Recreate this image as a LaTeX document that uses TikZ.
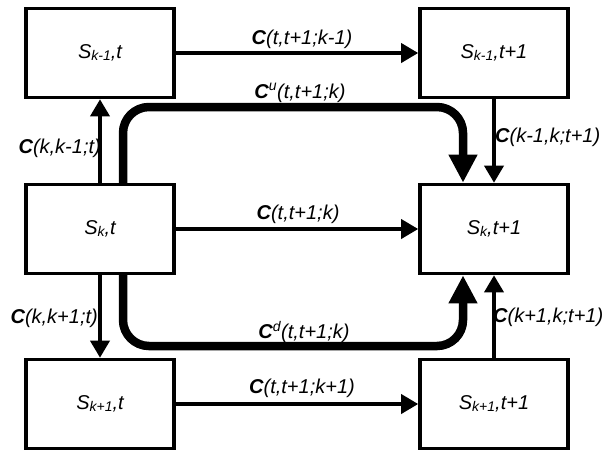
\documentclass[tikz,border=0pt]{standalone}
\usepackage{fontspec}
\setmainfont{Liberation Sans}
\usetikzlibrary{arrows.meta,calc}
\newcommand\sub[1]{\raisebox{-0.08em}{\fontsize{14}{14}\selectfont #1}}
\begin{document}
\begin{tikzpicture}[x=1pt,y=-1pt,
  font=\fontsize{20}{24}\selectfont\itshape,
  box/.style={draw,line width=3.6pt,minimum width=148pt,minimum height=89pt,inner sep=0pt},
  thin/.style={line width=3.6pt,-{Triangle[length=17pt,width=19pt]}},
  heavy/.style={line width=8.5pt,rounded corners=26pt,-{Triangle[length=28pt,width=27pt]}},
  lab/.style={inner sep=0pt}]
\useasboundingbox (0,0) rectangle (609,451);
\node[box] (TL) at (100,53) {S\sub{k-1},t};
\node[box] (TR) at (494,53) {S\sub{k-1},t+1};
\node[box] (ML) at (100,229) {S\sub{k},t};
\node[box] (MR) at (494,229) {S\sub{k},t+1};
\node[box] (BL) at (100,404) {S\sub{k+1},t};
\node[box] (BR) at (494,404) {S\sub{k+1},t+1};
% horizontal
\draw[thin] (TL.east) -- (TR.west);
\draw[thin] (ML.east) -- (MR.west);
\draw[thin] (BL.east) -- (BR.west);
% verticals
\draw[thin] (ML.north) -- (TL.south);
\draw[thin] (ML.south) -- (BL.north);
\draw[thin] (TR.south) -- (MR.north);
\draw[thin] (BR.north) -- (MR.south);
% heavy
\coordinate (us) at ($(ML.north)+(23,1)$);
\coordinate (ue) at ($(MR.north)+(-31,0)$);
\coordinate (ds) at ($(ML.south)+(23,-1)$);
\coordinate (de) at ($(MR.south)+(-31,0)$);
\draw[heavy] (us) -- (us |- 0,107) -- (ue |- 0,107) -- (ue);
\draw[heavy] (ds) -- (ds |- 0,346) -- (de |- 0,346) -- (de);
% labels
\node[lab] (l1) at (302,39) {\textbf{C}(t,t+1;k-1)};
\node[lab] (l2) at (300,93) {\textbf{C}\textsuperscript{u}(t,t+1;k)};
\node[lab] (l3) at (298,214) {\textbf{C}(t,t+1;k)};
\node[lab] (l4) at (304,332) {\textbf{C}\textsuperscript{d}(t,t+1;k)};
\node[lab] (l5) at (302,388) {\textbf{C}(t,t+1;k+1)};
\node[lab,anchor=east] (l6) at (101,148) {\textbf{C}(k,k-1;t)};
\node[lab,anchor=east] (l7) at (98,318) {\textbf{C}(k,k+1;t)};
\node[lab,anchor=west] (l8) at (495,137) {\textbf{C}(k-1,k;t+1)};
\node[lab,anchor=west] (l9) at (493,317) {\textbf{C}(k+1,k;t+1)};
\end{tikzpicture}
\end{document}
